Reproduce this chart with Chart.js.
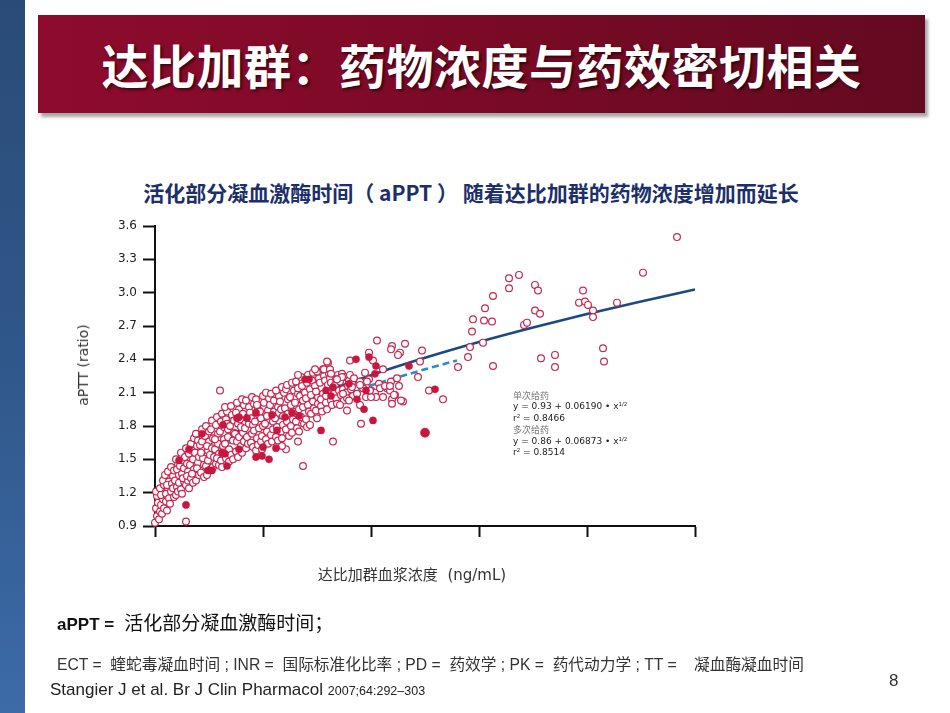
<!DOCTYPE html>
<html><head><meta charset="utf-8">
<script src="https://cdn.jsdelivr.net/npm/chart.js@4.4.1/dist/chart.umd.min.js"></script>
<style>
html,body{margin:0;padding:0;}
body{width:950px;height:713px;overflow:hidden;background:#fff;position:relative;font-family:'DejaVu Sans',sans-serif;}
#leftbar{position:absolute;left:0;top:0;width:25px;height:713px;background:linear-gradient(180deg,#2a4b77 0%,#30578a 50%,#3c6ba8 100%);}
#titlebar{position:absolute;left:38px;top:15px;width:887px;height:98px;background:linear-gradient(90deg,#8e0b2d 0%,#7a0a26 50%,#640a20 100%);box-shadow:3px 4px 3px rgba(0,0,0,0.35);}
#title{position:absolute;left:38px;top:15px;width:887px;height:98px;line-height:98px;text-align:center;color:#fff;font-family:'Noto Sans CJK SC',sans-serif;font-weight:bold;font-size:47px;letter-spacing:0.5px;text-shadow:2px 2px 3px rgba(0,0,0,0.55);}
#ctitle{position:absolute;left:0;top:179px;width:942px;text-align:center;font-family:'Noto Sans CJK SC',sans-serif;font-weight:bold;font-size:21px;color:#1c2f6c;line-height:26px;white-space:nowrap;}
#ylab{position:absolute;left:83px;top:365px;transform:translate(-50%,-50%) rotate(-90deg);font-size:14px;color:#333;white-space:nowrap;}
#xlab{position:absolute;left:412px;top:573px;transform:translate(-50%,-50%);font-size:15px;color:#333;white-space:nowrap;font-family:'DejaVu Sans','Noto Sans CJK SC',sans-serif;}
#anno{position:absolute;left:513px;top:390px;font-size:9px;line-height:11.4px;color:#222;white-space:nowrap;}
#anno .cn{color:#777;font-family:'Noto Sans CJK SC',sans-serif;}
#anno sup{font-size:5.5px;vertical-align:3px;line-height:0;}
#note1{position:absolute;left:57px;top:608px;font-family:'Liberation Sans','Noto Sans CJK SC',sans-serif;font-size:19px;color:#111;white-space:nowrap;}
#note1 b{font-size:17px;}
#note2{position:absolute;left:57px;top:652px;font-family:'Liberation Sans','Noto Sans CJK SC',sans-serif;font-size:15.7px;color:#333;white-space:nowrap;}
#note3{position:absolute;left:50px;top:680px;font-family:'Liberation Sans',sans-serif;font-size:17px;color:#222;white-space:nowrap;}
#note3 small{font-size:12.5px;}
#pnum{position:absolute;left:889px;top:671px;font-family:'Liberation Sans',sans-serif;font-size:17px;color:#333;}
#c{position:absolute;left:0;top:0;}
</style></head>
<body>
<div id="leftbar"></div>
<div id="titlebar"></div>
<div id="title">达比加群：药物浓度与药效密切相关</div>
<div id="ctitle">活化部分凝血激酶时间（ aPPT ） 随着达比加群的药物浓度增加而延长</div>
<canvas id="c" width="950" height="713"></canvas>
<div id="ylab">aPTT (ratio)</div>
<div id="xlab">达比加群血浆浓度&nbsp;&nbsp;(ng/mL)</div>
<div id="anno">
<div class="cn">单次给药</div>
<div>y = 0.93 + 0.06190 • x<sup>1/2</sup></div>
<div>r<sup>2</sup> = 0.8466</div>
<div class="cn">多次给药</div>
<div>y = 0.86 + 0.06873 • x<sup>1/2</sup></div>
<div>r<sup>2</sup> = 0.8514</div>
</div>
<div id="note1"><b>aPPT = </b>&nbsp;活化部分凝血激酶时间；</div>
<div id="note2">ECT =&nbsp; 蝰蛇毒凝血时间 ; INR =&nbsp; 国际标准化比率 ; PD =&nbsp; 药效学 ; PK =&nbsp; 药代动力学 ; TT =&nbsp;&nbsp;&nbsp; 凝血酶凝血时间</div>
<div id="note3">Stangier J et al. Br J Clin Pharmacol <small>2007;64:292–303</small></div>
<div id="pnum">8</div>
<script>
// ---- data (x: plasma concentration axis units, y: aPTT ratio) ----
const yTicks = [0.9, 1.2, 1.5, 1.8, 2.1, 2.4, 2.7, 3.0, 3.3, 3.6];
const xTicks = [0, 108, 216, 324, 432, 540];

const fitX = [0, 2, 5, 11, 27, 54, 81, 108, 162, 216, 270, 324, 378, 432, 486, 540];
const fitSingleY = [0.93, 1.058, 1.132, 1.230, 1.399, 1.594, 1.743, 1.869, 2.080, 2.258, 2.414, 2.556, 2.686, 2.808, 2.921, 3.029];

const fitMultiX = [3, 11, 27, 54, 108, 158, 225, 270, 302];
const fitMultiY = [0.93, 1.20, 1.38, 1.55, 1.80, 2.00, 2.19, 2.31, 2.39];

const singleDose = [
[0,0.93],[2,0.99],[1,1.06],[3,1.11],[4,0.96],[2,1.17],[5,1.03],[1,1.21],
[6,1.09],[5,1.24],[8,1.14],[7,1.01],[9,1.27],[6,1.18],[9,1.06],[8,1.31],
[11,1.12],[10,1.36],[13,1.22],[12,1.04],[14,1.30],[11,1.19],[14,1.15],[12,1.27],[13,1.39],
[16,1.21],[15,1.10],[18,1.35],[17,1.28],[19,1.16],[16,1.43],[18,1.24],[19,1.40],
[21,1.18],[20,1.31],[23,1.45],[22,1.25],[24,1.36],[21,1.50],[23,1.21],[24,1.29],[22,1.41],
[26,1.23],[27,1.37],[25,1.44],[29,1.30],[28,1.49],[26,1.56],[29,1.42],[27,1.19],[28,1.33],
[31,1.27],[30,1.52],[33,1.39],[32,1.46],[34,1.24],[31,1.60],[34,1.55],[33,1.31],[32,1.35],
[36,1.33],[35,1.45],[38,1.29],[37,1.58],[39,1.41],[36,1.64],[38,1.50],[39,1.69],[37,1.37],
[41,1.31],[40,1.56],[43,1.47],[42,1.62],[44,1.36],[41,1.73],[43,1.67],[44,1.52],[42,1.42],
[46,1.38],[45,1.63],[48,1.51],[47,1.77],[49,1.34],[46,1.56],[48,1.70],[49,1.45],[47,1.66],
[51,1.44],[50,1.71],[53,1.58],[52,1.36],[54,1.66],[51,1.80],[53,1.49],[54,1.75],[52,1.62],
[56,1.41],[55,1.54],[58,1.69],[57,1.85],[59,1.52],[56,1.77],[58,1.43],[59,1.62],[57,1.60],
[61,1.46],[60,1.59],[63,1.73],[62,1.88],[64,1.55],[61,1.81],[63,1.64],[64,1.45],[62,1.51],[60,1.68],
[66,1.49],[65,1.75],[68,1.62],[67,1.91],[69,1.68],[66,1.84],[68,1.55],[69,1.79],[67,1.43],
[71,1.51],[70,1.64],[73,1.77],[72,1.93],[74,1.59],[71,1.86],[73,1.70],[74,1.48],[72,1.82],[70,1.97],
[76,1.54],[75,1.80],[78,1.67],[77,1.90],[79,1.74],[76,1.98],[78,1.50],[79,1.85],
[81,1.57],[80,1.73],[83,1.82],[82,1.66],[84,1.95],[81,1.92],[83,1.52],[84,1.70],[82,2.01],
[86,1.62],[85,1.86],[88,1.74],[87,1.56],[89,1.99],[86,1.79],[88,1.91],[89,1.66],[87,2.04],
[91,1.60],[90,1.78],[93,1.88],[92,1.70],[94,1.97],[91,2.03],[93,1.64],[94,1.82],
[96,1.65],[95,1.92],[98,1.81],[97,1.73],[99,2.00],[96,1.87],[98,1.61],[99,1.76],[97,2.06],
[101,1.58],[100,1.84],[103,1.95],[102,1.69],[104,1.78],[101,2.04],[103,1.63],[104,1.90],[102,1.99],
[106,1.66],[105,1.93],[108,1.80],[107,1.71],[109,2.01],[106,1.87],[108,2.07],[107,1.59],
[111,1.68],[110,1.82],[113,1.94],[112,1.75],[114,2.05],[111,2.10],[113,1.64],[112,1.89],
[116,1.72],[115,1.99],[118,1.84],[117,1.66],[119,1.93],[116,2.09],[118,1.77],[119,2.03],
[121,1.70],[120,1.87],[123,1.97],[122,1.79],[124,2.07],[121,2.12],[123,1.67],[124,1.92],
[126,1.75],[125,2.02],[128,1.89],[127,1.69],[129,2.10],[126,1.95],[128,1.81],[127,2.15],
[131,1.77],[130,1.96],[133,2.04],[132,1.84],[134,1.71],[131,2.13],[133,1.91],[132,2.17],
[136,1.80],[135,2.06],[138,1.93],[137,1.74],[139,2.12],[136,1.99],[138,1.86],[137,2.19],
[141,1.84],[140,2.01],[143,2.09],[142,1.78],[144,1.95],[141,2.20],[143,2.14],
[146,1.88],[145,2.07],[148,1.97],[147,2.16],[149,1.82],[146,2.24],[148,2.03],
[151,1.86],[150,2.10],[153,1.99],[152,2.19],[154,1.93],[151,2.05],[153,2.26],[152,1.79],
[156,1.91],[155,2.13],[158,2.02],[157,2.21],[159,1.96],[156,2.08],[158,2.28],
[161,1.94],[160,2.16],[163,2.06],[162,1.87],[164,2.23],[161,2.11],[163,2.00],[162,2.29],
[166,1.98],[165,2.19],[168,2.09],[167,1.93],[169,2.25],[166,2.04],[168,2.31],
[171,2.01],[170,2.21],[173,2.12],[172,1.95],[174,2.27],[171,2.07],[173,2.17],
[176,2.03],[175,2.23],[178,2.14],[177,1.99],[179,2.09],[176,2.19],
[181,2.05],[180,2.17],[183,2.26],[182,2.00],[184,2.12],[181,2.22],
[186,2.08],[185,2.20],[188,2.13],[187,2.27],[189,2.03],
[191,2.10],[190,2.24],[193,2.16],[192,2.05],[194,2.21],
[196,2.13],[195,2.26],[198,2.07],[197,2.19],[199,2.23],
[202,2.09],[205,2.20],[208,2.14],[211,2.06],[214,2.22],[210,2.28],[216,2.12],
[220,2.10],[224,2.18],[228,2.06],[232,2.14],[236,2.20],[240,2.08],[244,2.16],[248,2.02],[235,2.12],
[65,2.12],[31,0.94],[148,1.44],[178,1.66],[143,1.66],[144,1.75],[155,1.81],[131,1.59],[127,1.62],
[206,1.82],[205,1.99],[192,1.94],[185,1.99],[194,2.03],[188,2.09],[197,2.15],[205,2.17],[212,2.20],
[225,2.14],[230,2.16],[235,2.16],[221,2.06],[216,2.06],[215,2.12],[237,2.04],[237,2.00],[239,2.08],
[246,2.03],[274,2.12],[288,2.04],[173,2.37],[169,2.31],[175,2.31],[176,2.27],[160,2.31],[143,2.26],
[187,2.24],[182,2.22],[172,2.38],[195,2.39],[214,2.46],[218,2.39],[228,2.31],[222,2.57],[237,2.52],
[236,2.49],[250,2.54],[245,2.46],[243,2.44],[267,2.48],[265,2.38],[263,2.24],[242,2.23],[303,2.33],
[313,2.42],[315,2.51],[328,2.55],[317,2.65],[318,2.76],[329,2.75],[337,2.74],[330,2.86],[338,2.97],
[354,3.04],[354,3.13],[364,3.16],[380,3.07],[383,3.02],[380,2.84],[385,2.81],[369,2.71],[372,2.73],
[338,2.34],[386,2.41],[400,2.44],[400,2.33],[428,3.02],[424,2.91],[430,2.92],[433,2.89],[438,2.84],
[438,2.78],[448,2.50],[449,2.38],[462,2.91],[488,3.18],[522,3.50]
];

const multiDose = [
[31,1.09],[24,1.49],[34,1.59],[47,1.73],[53,1.40],[57,1.40],[68,1.81],[67,1.56],[70,1.55],[72,1.44],
[82,1.87],[84,1.88],[84,1.59],[92,1.87],[101,1.92],[101,1.52],[107,1.53],[108,1.61],[114,1.50],[117,1.90],
[121,1.60],[122,1.76],[130,1.88],[137,1.92],[144,1.89],[150,2.22],[154,2.22],[166,1.76],[171,2.12],[176,2.07],
[178,2.15],[194,2.18],[201,2.40],[202,2.04],[209,1.95],[211,2.12],[214,2.42],[218,1.85],[220,2.27],[221,2.34],
[254,2.34],[280,2.13]
];
const multiDoseLarge = [[270,1.74]];

const toXY = arr => arr.map(p => ({x: p[0], y: p[1]}));
const zipXY = (xs, ys) => xs.map((x, i) => ({x: x, y: ys[i]}));

new Chart(document.getElementById('c'), {
  type: 'scatter',
  data: {
    datasets: [
      {label: 'single fit', data: zipXY(fitX, fitSingleY), showLine: true, borderColor: '#1b4a82', borderWidth: 2.6, pointRadius: 0, cubicInterpolationMode: 'monotone', order: 4},
      {label: 'multi fit', data: zipXY(fitMultiX, fitMultiY), showLine: true, borderColor: '#2e8bc6', borderWidth: 2.6, borderDash: [7, 4], pointRadius: 0, cubicInterpolationMode: 'monotone', order: 3},
      {label: '单次给药', data: toXY(singleDose), pointRadius: 3.4, pointBackgroundColor: '#ffffff', pointBorderColor: '#c4284f', pointBorderWidth: 1.2, clip: false, order: 2},
      {label: '多次给药', data: toXY(multiDose), pointRadius: 3.6, pointBackgroundColor: '#c8173f', pointBorderColor: '#c8173f', pointBorderWidth: 0.5, clip: false, order: 1},
      {label: '多次给药 large', data: toXY(multiDoseLarge), pointRadius: 4.6, pointBackgroundColor: '#c8173f', pointBorderColor: '#c8173f', pointBorderWidth: 0.5, clip: false, order: 0}
    ]
  },
  options: {
    responsive: false,
    animation: false,
    devicePixelRatio: 1,
    layout: {padding: {left: 95, right: 255, top: 226, bottom: 167}},
    plugins: {legend: {display: false}, tooltip: {enabled: false}, title: {display: false}},
    scales: {
      x: {
        type: 'linear', min: xTicks[0], max: xTicks[xTicks.length - 1],
        afterBuildTicks: s => { s.ticks = xTicks.map(v => ({value: v})); },
        afterFit: s => { s.height = 20; },
        grid: {display: true, drawOnChartArea: false, drawTicks: true, tickLength: 11, tickWidth: 2, tickColor: '#111'},
        border: {display: true, color: '#111', width: 2},
        ticks: {display: false}
      },
      y: {
        type: 'linear', min: yTicks[0], max: yTicks[yTicks.length - 1],
        afterBuildTicks: s => { s.ticks = yTicks.map(v => ({value: v})); },
        afterFit: s => { s.width = 60; },
        grid: {display: true, drawOnChartArea: false, drawTicks: true, tickLength: 12, tickWidth: 2, tickColor: '#111'},
        border: {display: true, color: '#111', width: 2},
        ticks: {padding: 6, color: '#222', font: {family: 'DejaVu Sans', size: 12}, callback: v => Number(v).toFixed(1)}
      }
    }
  }
});
</script>
</body></html>
